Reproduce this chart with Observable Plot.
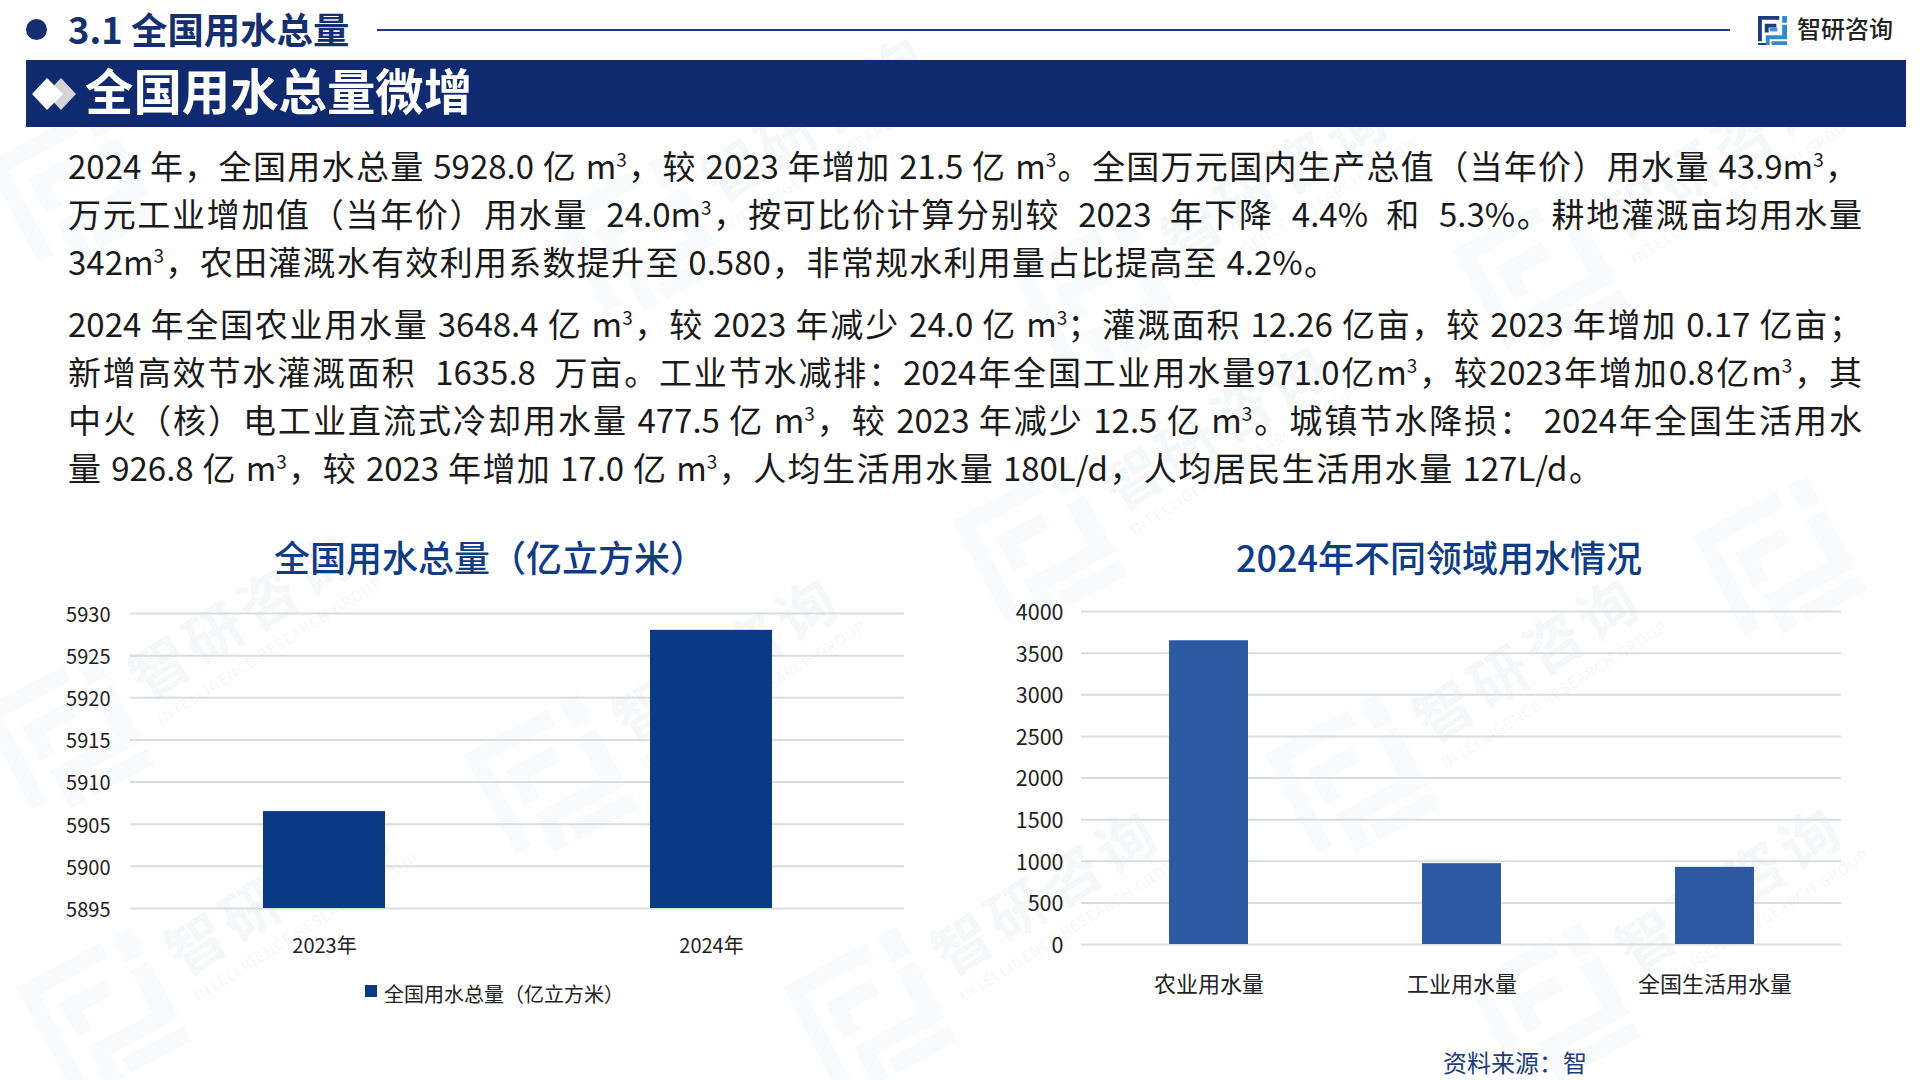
<!DOCTYPE html>
<html lang="zh-CN">
<head>
<meta charset="utf-8">
<title>全国用水总量微增</title>
<script src="https://cdn.jsdelivr.net/npm/d3@7"></script>
<script src="https://cdn.jsdelivr.net/npm/@observablehq/plot@0.6"></script>
<style>
html,body{margin:0;padding:0;background:#fff}
body{position:relative;width:1920px;height:1080px;overflow:hidden;font-family:"Noto Sans CJK SC","Noto Sans",sans-serif}
.abs{position:absolute;white-space:nowrap}
.line{position:absolute;left:68px;height:48px;line-height:48px;font-size:33px;color:#1a1a1a;white-space:nowrap;text-align:justify;text-align-last:justify;text-justify:inter-character}
.line sup{font-size:19px;line-height:0;vertical-align:baseline;position:relative;top:-12px}
.chartbox{position:absolute}
.wm{position:absolute;width:130px;height:130px;opacity:.035}
.wt{position:absolute;color:#7d94b4;opacity:.07;font-weight:700;font-size:58px;letter-spacing:6px;transform:rotate(-32deg);transform-origin:center;white-space:nowrap}
.wt small{display:block;font-size:15px;font-weight:400;letter-spacing:1px;margin-top:-6px}
</style>
</head>
<body>
<svg width="0" height="0" style="position:absolute"><defs>
<symbol id="logo" viewBox="0 0 30 30">
<path fill="#1d3a7f" d="M0 0H22V4H4V26H0ZM7 8H19V12H11V17H7ZM0 28H10V30H0Z"/>
<path fill="#2f8ad0" d="M25 0H30V7H25ZM25 9H30V24H12V30H8V20H25ZM14 26H30V30H14Z"/>
<path fill="#2f8ad0" d="M12 12H20V16H12Z" opacity=".9"/>
</symbol>
<symbol id="logoW" viewBox="0 0 30 30">
<path fill="#5f86b5" d="M0 0H22V4H4V26H0ZM7 8H19V12H11V17H7ZM25 0H30V7H25ZM25 9H30V24H12V30H8V20H25ZM14 26H30V30H14Z"/>
</symbol>
</defs></svg>
<div id="wmLayer"></div>

<div class="abs" style="left:26px;top:19px;width:21px;height:21px;border-radius:50%;background:#15306f"></div>
<div class="abs" style="left:68px;top:28px;transform:translateY(-50%);font-size:36.4px;font-weight:700;color:#15306f;line-height:1">3.1 全国用水总量</div>
<div class="abs" style="left:377px;top:29px;width:1353px;height:2px;background:#1d3a7f"></div>
<svg class="abs" style="left:1758px;top:16px" width="29" height="29"><use href="#logo" width="29" height="29"/></svg>
<div class="abs" style="left:1797px;top:28px;transform:translateY(-50%);font-size:24px;font-weight:500;color:#222;line-height:1">智研咨询</div>

<div class="abs" style="left:26px;top:60px;width:1880px;height:67px;background:#0f2a6e"></div>
<svg class="abs" style="left:30px;top:76px" width="50" height="36">
<path d="M31 2L46 18L31 34L16 18Z" fill="#d4d4d4"/><path d="M17 2L33 18L17 34L2 18Z" fill="#fff"/></svg>
<div class="abs" style="left:85px;top:89px;transform:translateY(-50%);font-size:48.4px;font-weight:700;color:#fff;line-height:1">全国用水总量微增</div>

<div id="body"></div>

<div class="abs" style="left:490px;top:556px;transform:translate(-50%,-50%);font-size:36px;font-weight:500;color:#0e3c86;line-height:1">全国用水总量（亿立方米）</div>
<div class="abs" style="left:1439px;top:556px;transform:translate(-50%,-50%);font-size:36px;font-weight:500;color:#0e3c86;line-height:1">2024年不同领域用水情况</div>

<div id="c1" class="chartbox" style="left:0;top:590px"></div>
<div id="c2" class="chartbox" style="left:960px;top:590px"></div>

<div class="abs" style="left:365px;top:991px;width:12px;height:12px;background:#0b3a85;transform:translateY(-50%)"></div>
<div class="abs" style="left:384px;top:994px;transform:translateY(-50%);font-size:20px;color:#222;line-height:1">全国用水总量（亿立方米）</div>
<div class="abs" style="left:1443px;top:1062px;transform:translateY(-50%);font-size:24px;color:#1f3c7a;line-height:1">资料来源：智</div>

<script>
// ---- chart data ----
const years = ["2023年", "2024年"];
const totalWater = [5906.5, 5928.0];
const totalTicks = [5895, 5900, 5905, 5910, 5915, 5920, 5925, 5930];
const sectors = ["农业用水量", "工业用水量", "全国生活用水量"];
const sectorWater = [3648.4, 971.0, 926.8];
const sectorTicks = [0, 500, 1000, 1500, 2000, 2500, 3000, 3500, 4000];

// ---- body text ----
const bodyLines = [
  ["2024 年，全国用水总量 5928.0 亿 m<sup>3</sup>，较 2023 年增加 21.5 亿 m<sup>3</sup>。全国万元国内生产总值（当年价）用水量 43.9m<sup>3</sup>，", 141, 1790],
  ["万元工业增加值（当年价）用水量 &nbsp;24.0m<sup>3</sup>，按可比价计算分别较 &nbsp;2023 &nbsp;年下降 &nbsp;4.4% &nbsp;和 &nbsp;5.3%。耕地灌溉亩均用水量", 189, 1794],
  ["342m<sup>3</sup>，农田灌溉水有效利用系数提升至 0.580，非常规水利用量占比提高至 4.2%。", 237, 1269],
  ["2024 年全国农业用水量 3648.4 亿 m<sup>3</sup>，较 2023 年减少 24.0 亿 m<sup>3</sup>；灌溉面积 12.26 亿亩，较 2023 年增加 0.17 亿亩；", 299, 1794],
  ["新增高效节水灌溉面积 &nbsp;1635.8 &nbsp;万亩。工业节水减排：2024年全国工业用水量971.0亿m<sup>3</sup>，较2023年增加0.8亿m<sup>3</sup>，其", 347, 1794],
  ["中火（核）电工业直流式冷却用水量 477.5 亿 m<sup>3</sup>，较 2023 年减少 12.5 亿 m<sup>3</sup>。城镇节水降损： 2024年全国生活用水", 395, 1794],
  ["量 926.8 亿 m<sup>3</sup>，较 2023 年增加 17.0 亿 m<sup>3</sup>，人均生活用水量 180L/d，人均居民生活用水量 127L/d。", 443, 1534]
];
const bodyEl = document.getElementById("body");
for (const [html, top, width] of bodyLines) {
  const d = document.createElement("div");
  d.className = "line";
  d.style.top = top + "px";
  d.style.width = width + "px";
  d.innerHTML = html;
  bodyEl.appendChild(d);
}

// ---- faint watermark: logo, and the wordmark where it stays inside the page ----
const wmUnits = [[73,190,0],[67,737,1],[551,781,1],[104,1014,1],[870,1014,1],[1040,548,1],[1352,781,1],[1780,563,0],[1554,1010,1],[1541,277,1],[640,240,1],[1100,300,1]];
const wmLayer = document.getElementById("wmLayer");
for (const [x, y, hasText] of wmUnits) {
  wmLayer.insertAdjacentHTML("beforeend",
    `<svg class="wm" style="left:${x-65}px;top:${y-65}px;transform:rotate(-28deg)"><use href="#logoW" width="130" height="130"/></svg>` +
    (hasText ? `<div class="wt" style="left:${x+50}px;top:${y-170}px">智研咨询<small>INTELLIGENCE RESEARCH GROUP</small></div>` : ""));
}

// ---- charts ----
const fontFamily = '"Noto Sans CJK SC","Noto Sans",sans-serif';
function barChart({cats, vals, ticks, base, fill, w, h, ml, mr, mt, mb, tickFont, xFont, xPad, yPad, inner, outer, dy}) {
  const rows = cats.map((c, i) => ({c, v: vals[i]}));
  return Plot.plot({
    width: w, height: h,
    marginLeft: ml, marginRight: mr, marginTop: mt, marginBottom: mb,
    style: {background: "transparent", fontFamily, overflow: "visible", color: "#222"},
    x: {domain: cats, paddingInner: inner, paddingOuter: outer, label: null},
    y: {domain: [base, ticks[ticks.length - 1]], label: null},
    marks: [
      Plot.ruleY(ticks, {stroke: "#d9dce0", strokeWidth: 2}),
      Plot.barY(rows, {x: "c", y1: () => base, y2: "v", fill}),
      Plot.axisY({ticks, tickSize: 0, tickPadding: yPad, fontSize: tickFont, label: null, tickFormat: d => String(d), fill: "#222", dy}),
      Plot.axisX({tickSize: 0, tickPadding: xPad, fontSize: xFont, label: null, fill: "#222"})
    ]
  });
}
document.getElementById("c1").appendChild(barChart({
  cats: years, vals: totalWater, ticks: totalTicks, base: 5895, fill: "#0b3a85",
  w: 920, h: 370, ml: 130, mr: 16, mt: 23, mb: 52,
  tickFont: 20, xFont: 20, xPad: 30, yPad: 20, inner: 0.686, outer: 0.343, dy: 2
}));
document.getElementById("c2").appendChild(barChart({
  cats: sectors, vals: sectorWater, ticks: sectorTicks, base: 0, fill: "#2d58a2",
  w: 900, h: 400, ml: 121, mr: 19, mt: 21, mb: 46,
  tickFont: 21.5, xFont: 22, xPad: 32, yPad: 18, inner: 0.688, outer: 0.344, dy: 1.5
}));
</script>
</body>
</html>
